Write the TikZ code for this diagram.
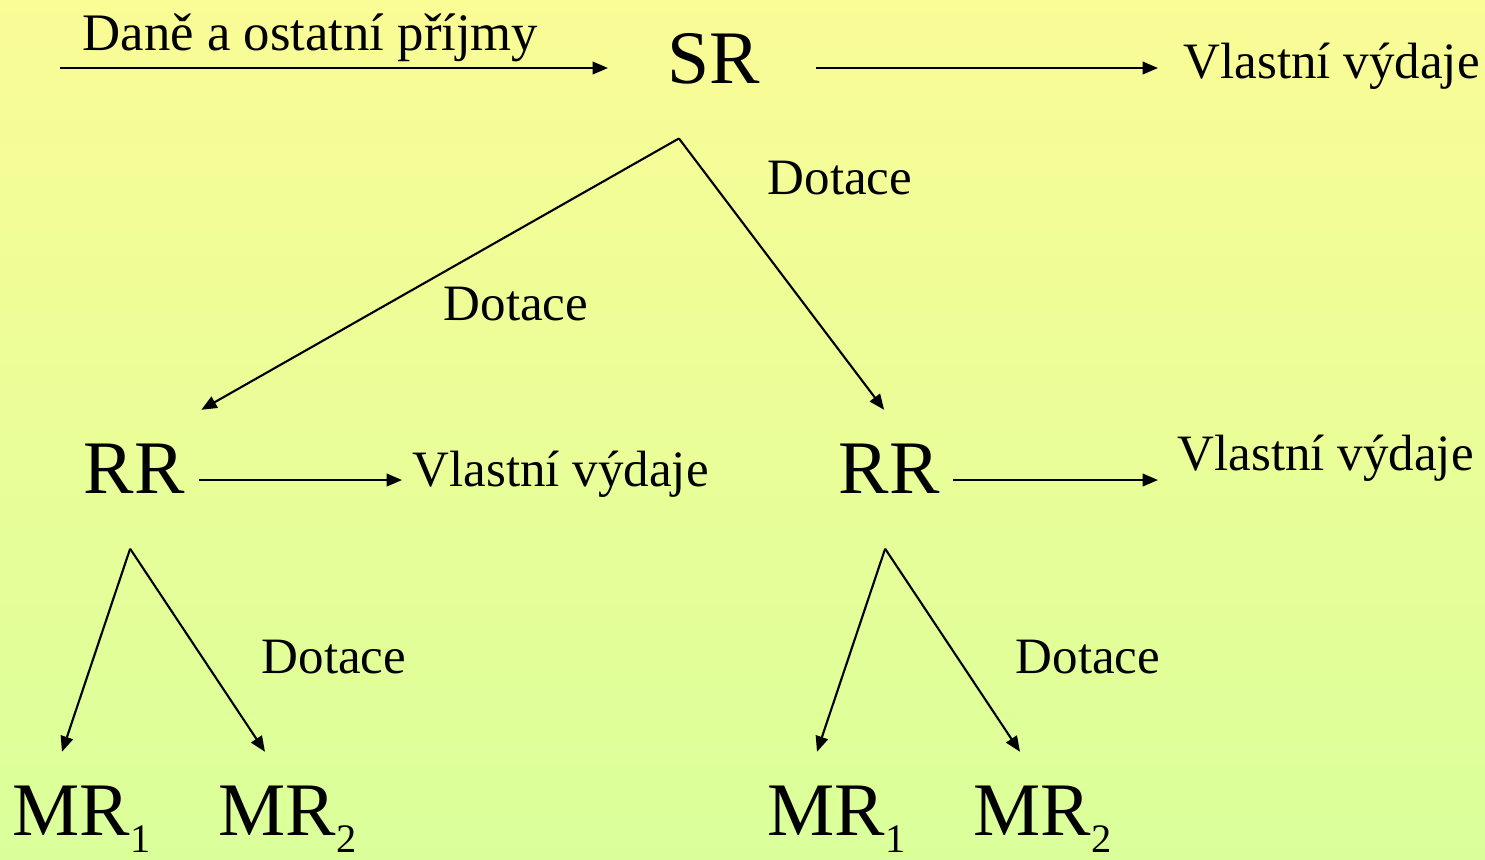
\documentclass[tikz,border=0pt]{standalone}
\usepackage{fontspec}
\setmainfont{Liberation Serif}
\usetikzlibrary{arrows.meta}
\definecolor{bgtop}{RGB}{250,252,150}
\definecolor{bgbottom}{RGB}{218,255,154}
\newcommand{\mrsub}[1]{\raisebox{-5pt}{\fontsize{11.5}{12}\selectfont #1}}

\begin{document}
\begin{tikzpicture}[x=0.01cm,y=-0.01cm,
    big/.style={anchor=base west,inner sep=0pt,font=\fontsize{21.5}{26}\selectfont},
    small/.style={anchor=base west,inner sep=0pt,font=\fontsize{14.5}{17}\selectfont},
    flow/.style={-{Triangle[length=4.4pt,width=3.6pt]},line width=0.6pt}]
    % background
    \shade[top color=bgtop,bottom color=bgbottom] (0,0) rectangle (1485,859);
    \useasboundingbox (0,0) rectangle (1485,859);

    % state budget
    \node[big] (sr) at (667,83) {SR};
    \node[small,font=\fontsize{15}{17}\selectfont] (income) at (82,50) {Daně a ostatní příjmy};
    \node[small] (spend) at (1183,78) {Vlastní výdaje};
    \coordinate (instart) at (60,68);
    \coordinate (srfork) at ([shift={(-35,54)}]sr.south);
    \draw[flow,shorten >=0.59cm] (instart) -- (instart -| sr.west);
    \draw[flow,shorten <=0.55cm,shorten >=0.25cm] (sr.east |- instart) -- (spend.west |- instart);

    % regions
    \node[big] (rrl) at (83,493) {RR};
    \node[big] (rrr) at (838,493) {RR};
    \node[small] (spendl) at (412,486) {Vlastní výdaje};
    \node[small] (spendr) at (1177,470) {Vlastní výdaje};
    \node[small] (dotl) at (443,320) {Dotace};
    \node[small] (dotr) at (767,194) {Dotace};
    \draw[flow] (srfork) -- ([shift={(16,-33)}]rrl.north east);
    \draw[flow] (srfork) -- ([shift={(-5,-33)}]rrr.north);
    \coordinate (rrarrow) at (0,480);
    \draw[flow,shorten <=0.14cm,shorten >=0.1cm] (rrl.east |- rrarrow) -- (spendl.west |- rrarrow);
    \draw[flow,shorten <=0.13cm,shorten >=0.19cm] (rrr.east |- rrarrow) -- (spendr.west |- rrarrow);

    % municipalities
    \node[big] (mrl1) at (12,835) {MR\mrsub{1}};
    \node[big] (mrl2) at (218,835) {MR\mrsub{2}};
    \node[big] (mrr1) at (767,835) {MR\mrsub{1}};
    \node[big] (mrr2) at (973,835) {MR\mrsub{2}};
    \node[small] (dotml) at (261,673) {Dotace};
    \node[small] (dotmr) at (1015,673) {Dotace};
    \coordinate (rrlfork) at ([shift={(-4,55)}]rrl.south);
    \coordinate (rrrfork) at ([shift={(-4,55)}]rrr.south);
    \draw[flow] (rrlfork) -- ([shift={(50,-33)}]mrl1.north west);
    \draw[flow] (rrlfork) -- ([shift={(47,-33)}]mrl2.north west);
    \draw[flow] (rrrfork) -- ([shift={(50,-33)}]mrr1.north west);
    \draw[flow] (rrrfork) -- ([shift={(47,-33)}]mrr2.north west);
\end{tikzpicture}
\end{document}
